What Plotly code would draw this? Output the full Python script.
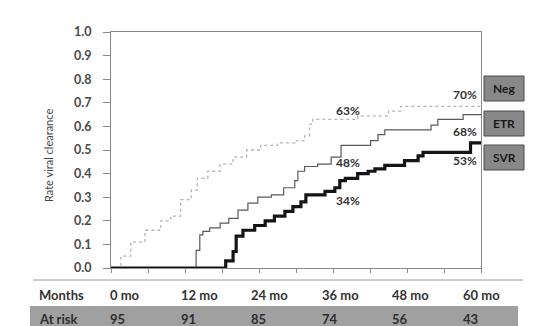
import plotly.graph_objects as go

# ---- data ----
neg_months = [0, 1.6, 3.2, 5.5, 8.1, 9.7, 11.3, 13.0, 14.0, 15.7, 17.7, 19.8, 22.0, 24.3, 27.0, 29.8, 31.4, 32.2, 32.7, 40.0, 45.0, 47.0, 60.0]
neg_values = [0, 0.05, 0.11, 0.16, 0.20, 0.22, 0.29, 0.33, 0.38, 0.41, 0.44, 0.47, 0.50, 0.52, 0.53, 0.54, 0.56, 0.61, 0.63, 0.645, 0.665, 0.685, 0.69]

etr_months = [0, 13.8, 14.4, 14.9, 16.0, 17.7, 19.1, 20.6, 22.2, 23.8, 26.0, 28.0, 29.8, 30.3, 31.4, 33.5, 35.7, 37.3, 42.1, 43.3, 44.4, 51.9, 53.0, 57.1, 60.0]
etr_values = [0, 0.075, 0.14, 0.155, 0.17, 0.19, 0.21, 0.245, 0.275, 0.30, 0.31, 0.34, 0.37, 0.41, 0.43, 0.44, 0.47, 0.52, 0.54, 0.565, 0.585, 0.605, 0.63, 0.65, 0.65]

svr_months = [0, 18.6, 19.8, 20.3, 21.4, 23.3, 25.0, 26.5, 28.2, 29.5, 30.8, 31.6, 34.7, 36.3, 37.1, 38.0, 40.0, 41.7, 42.8, 44.4, 47.6, 49.8, 50.6, 58.3, 60.0]
svr_values = [0, 0.03, 0.07, 0.135, 0.16, 0.18, 0.20, 0.22, 0.24, 0.26, 0.28, 0.31, 0.325, 0.34, 0.37, 0.38, 0.40, 0.41, 0.42, 0.435, 0.455, 0.475, 0.49, 0.53, 0.53]

series_names = ["Neg", "ETR", "SVR"]
end_labels = ["70%", "68%", "53%"]
mid_labels = ["63%", "48%", "34%"]

table_months = ["0 mo", "12 mo", "24 mo", "36 mo", "48 mo", "60 mo"]
at_risk = [95, 91, 85, 74, 56, 43]

# ---- layout helpers (pixel geometry) ----
W, H = 533, 326
L, R, T, B = 103, 473, 24, 260
PW, PH = R - L, B - T


def px(x):
    return (x - L) / PW


def py(y):
    return (B - y) / PH


FONT = "Lato"

fig = go.Figure()
fig.add_trace(go.Scatter(x=neg_months, y=neg_values, mode="lines", line_shape="hv",
                         line=dict(color="#b4b4b4", width=1.3, dash="dot"), name="Neg"))
fig.add_trace(go.Scatter(x=etr_months, y=etr_values, mode="lines", line_shape="hv",
                         line=dict(color="#5a5a5a", width=1.2), name="ETR"))
fig.add_trace(go.Scatter(x=svr_months, y=svr_values, mode="lines", line_shape="hv",
                         line=dict(color="#151515", width=3.2), name="SVR"))

shapes = []
annotations = []

# separator line and at-risk band
shapes.append(dict(type="line", xref="paper", yref="paper", x0=px(25), x1=px(515), y0=py(272), y1=py(272),
                   line=dict(color="#9a9a9a", width=1)))
shapes.append(dict(type="rect", xref="paper", yref="paper", x0=px(22), x1=px(510), y0=py(298), y1=py(325),
                   fillcolor="#a0a0a0", line=dict(width=0), layer="below"))

annotations.append(dict(text="Months", xref="paper", yref="paper", x=px(29), y=py(287), xanchor="left",
                        yanchor="middle", showarrow=False, font=dict(family=FONT, size=13, color="#333333", weight="bold")))
annotations.append(dict(text="At risk", xref="paper", yref="paper", x=px(29), y=py(311), xanchor="left",
                        yanchor="middle", showarrow=False, font=dict(family=FONT, size=13, color="#2e2e2e", weight="bold")))
for i, (m, n) in enumerate(zip(table_months, at_risk)):
    xl = 100 + 70.5 * i
    annotations.append(dict(text=m, xref="paper", yref="paper", x=px(xl), y=py(287), xanchor="left",
                            yanchor="middle", showarrow=False,
                            font=dict(family=FONT, size=13, color="#333333", weight="bold")))
    annotations.append(dict(text=str(n), xref="paper", yref="paper", x=px(xl), y=py(311), xanchor="left",
                            yanchor="middle", showarrow=False,
                            font=dict(family=FONT, size=13, color="#2e2e2e", weight="bold")))

# legend boxes
box_tops = [68, 103, 137]
for name, top in zip(series_names, box_tops):
    shapes.append(dict(type="rect", xref="paper", yref="paper", x0=px(476), x1=px(516), y0=py(top), y1=py(top + 25),
                       fillcolor="#888888", line=dict(color="#4a4a4a", width=1)))
    annotations.append(dict(text=name, xref="paper", yref="paper", x=px(496), y=py(top + 12.5), xanchor="center",
                            yanchor="middle", showarrow=False,
                            font=dict(family=FONT, size=12, color="#1a1a1a", weight="bold")))

# percentage labels
end_y = [87, 123, 152]
for lab, yy in zip(end_labels, end_y):
    annotations.append(dict(text=lab, xref="paper", yref="paper", x=px(471), y=py(yy), xanchor="right",
                            yanchor="middle", showarrow=False,
                            font=dict(family=FONT, size=12, color="#333333", weight="bold")))
mid_y = [102, 154, 192]
for lab, yy in zip(mid_labels, mid_y):
    annotations.append(dict(text=lab, xref="paper", yref="paper", x=px(340), y=py(yy), xanchor="center",
                            yanchor="middle", showarrow=False,
                            font=dict(family=FONT, size=12, color="#333333", weight="bold")))

# y axis title
annotations.append(dict(text="Rate viral clearance", xref="paper", yref="paper", x=px(40), y=py(148),
                        xanchor="center", yanchor="middle", textangle=-90, showarrow=False,
                        font=dict(family=FONT, size=11, color="#444444")))

fig.update_layout(
    width=W, height=H,
    margin=dict(l=L, r=W - R, t=T, b=H - B, pad=0),
    paper_bgcolor="white", plot_bgcolor="white",
    showlegend=False,
    shapes=shapes, annotations=annotations,
    xaxis=dict(range=[0, 60], tickvals=list(range(0, 61, 6)), showticklabels=False, ticks="outside",
               ticklen=4, tickcolor="#8a8a8a", showline=True, linecolor="#8a8a8a", linewidth=1,
               mirror=True, showgrid=False, zeroline=False, fixedrange=True),
    yaxis=dict(range=[0, 1.0], dtick=0.1, tickformat=".1f", ticks="outside", ticklen=7, tickcolor="#8a8a8a",
               showline=True, linecolor="#8a8a8a", linewidth=1, mirror=True, showgrid=False, zeroline=False,
               ticklabelstandoff=9, tickfont=dict(family=FONT, size=12.5, color="#4a4a4a", weight="bold")),
)

fig.write_html("out.html")
